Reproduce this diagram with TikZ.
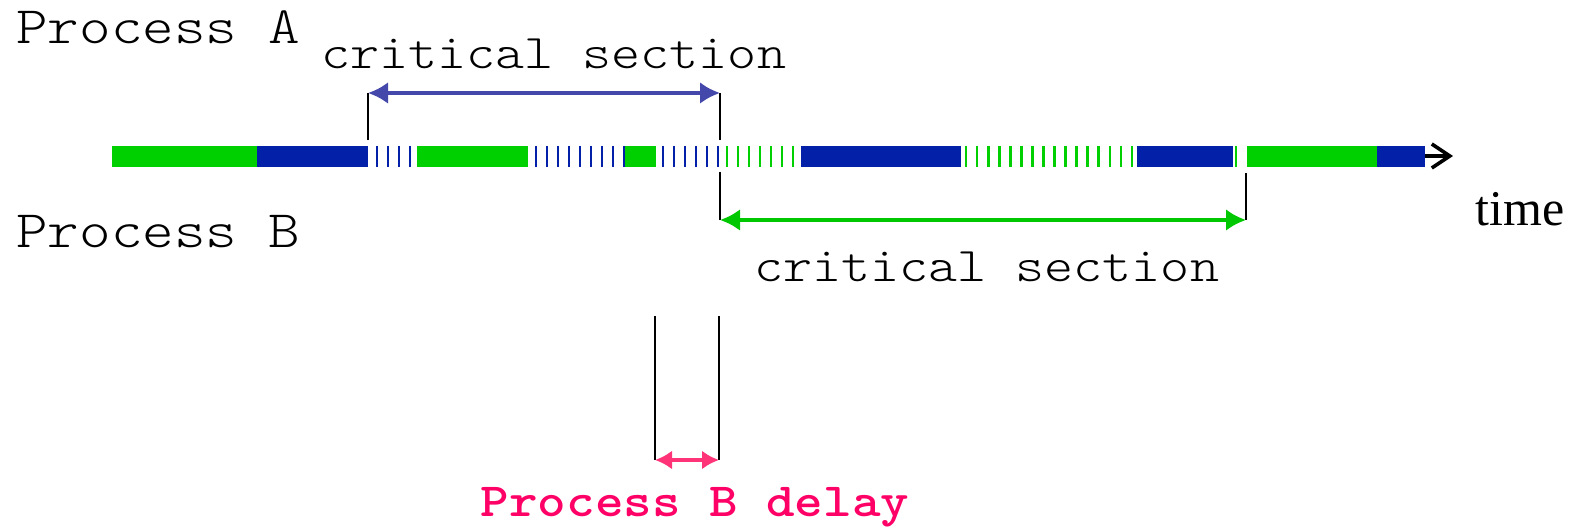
\documentclass[tikz,border=0pt]{standalone}
\usepackage{fontspec}
\newfontfamily\cour[FakeStretch=1.143,BoldFont=lmmonolt10-bold.otf]{lmmonolt10-regular.otf}
\newfontfamily\timesfont{Liberation Serif}
\usetikzlibrary{arrows.meta}
\definecolor{barblue}{HTML}{0220A8}
\definecolor{bargreen}{HTML}{00D000}
\definecolor{arrblue}{HTML}{4348AA}
\definecolor{arrgreen}{HTML}{00C800}
\definecolor{pinkarr}{HTML}{FF3377}
\definecolor{pinktxt}{HTML}{FF0066}
\begin{document}
\begin{tikzpicture}[x=0.5pt,y=-0.5pt,
  lbl/.style={inner sep=0pt,anchor=base west,font=\cour\fontsize{26.3}{30}\selectfont},
  cslbl/.style={inner sep=0pt,anchor=base west,font=\cour\fontsize{24.2}{28}\selectfont},
  mark line/.style={black,line width=1pt},
  span arrow/.style={line width=2pt,{Latex[length=10pt,width=11pt]}-{Latex[length=10pt,width=11pt]}},
  stripeA/.style={barblue,line width=1.4pt},
  stripeB/.style={bargreen,line width=1.4pt}]
\useasboundingbox (0,0) rectangle (1574,528);
% solid segments
\fill[bargreen] (112,146) rectangle (257,167);
\fill[barblue] (257,146) rectangle (368,167);
\fill[bargreen] (417,146) rectangle (528,167);
\fill[bargreen] (625,146) rectangle (656,167);
\fill[barblue] (801,146) rectangle (961,167);
\fill[barblue] (1137,146) rectangle (1233,167);
\fill[bargreen] (1247,146) rectangle (1377,167);
\fill[barblue] (1377,146) rectangle (1425,167);
% stripes
\foreach \x in {377,388,399,410} \draw[stripeA] (\x,146) -- (\x,167);
\foreach \i in {0,...,8} \draw[stripeA] (536+11*\i,146) -- (536+11*\i,167);
\foreach \i in {0,...,5} \draw[stripeA] (663+11*\i,146) -- (663+11*\i,167);
\foreach \i in {0,...,6} \draw[stripeB] (727+11*\i,146) -- (727+11*\i,167);
\foreach \i in {0,...,15} \draw[stripeB] (966+11.07*\i,146) -- (966+11.07*\i,167);
\draw[stripeB] (1236,146) -- (1236,167);
% time axis arrow
\coordinate (axisS) at (1425,156);
\coordinate (axisE) at (1453,156);
\draw[line width=1.8pt,-{Straight Barb[length=9pt,width=12pt,line width=1.8pt]}] (axisS) -- (axisE);
\node[inner sep=0pt,anchor=base west,font=\timesfont\fontsize{25}{28}\selectfont] (time) at (1475,226) {time};
% labels
\node[lbl] (pa) at (16,44) {Process A};
\node[lbl] (pb) at (16,248) {Process B};
\node[cslbl] (csA) at (321,69) {critical section};
\node[cslbl] (csB) at (754,282) {critical section};
% critical section A
\coordinate (a1) at (368,93);
\coordinate (a1b) at (368,140);
\coordinate (a2) at (720,93);
\coordinate (a2b) at (720,140);
\draw[mark line] (a1) -- (a1b);
\draw[mark line] (a2) -- (a2b);
\draw[span arrow,arrblue] (a1) -- (a2);
% critical section B
\coordinate (b1) at (720,220);
\coordinate (b1t) at (720,172);
\coordinate (b2) at (1246,220);
\coordinate (b2t) at (1246,173);
\draw[mark line] (b1t) -- (b1);
\draw[mark line] (b2t) -- (b2);
\draw[span arrow,arrgreen] (b1) -- (b2);
% delay
\coordinate (d1t) at (655,316);
\coordinate (d1) at (655,460);
\coordinate (d2t) at (719,316);
\coordinate (d2) at (719,460);
\draw[mark line] (d1t) -- (d1);
\draw[mark line] (d2t) -- (d2);
\draw[line width=2pt,pinkarr,{Latex[length=8.5pt,width=9.5pt]}-{Latex[length=8.5pt,width=9.5pt]}] (d1) -- (d2);
\node[inner sep=0pt,anchor=base,text=pinktxt,font=\cour\bfseries\fontsize{23.8}{28}\selectfont] (delay) at (695,517) {Process B delay};
\end{tikzpicture}
\end{document}
